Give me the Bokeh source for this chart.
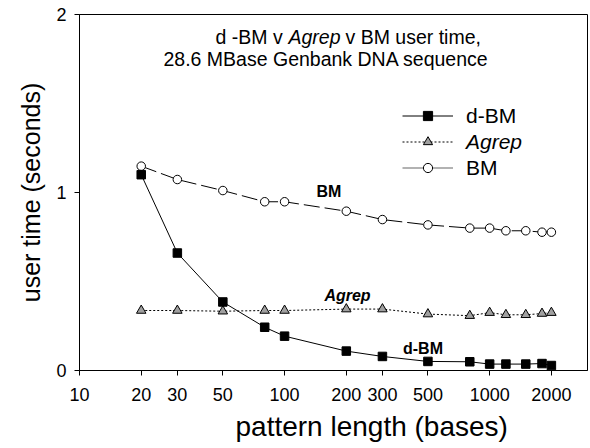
import math
from bokeh.plotting import figure
from bokeh.models import (Range1d, FixedTicker, PrintfTickFormatter, Label, Title,
                          Legend, LegendItem, ColumnDataSource)
from bokeh.embed import file_html
from bokeh.resources import INLINE

# ---------------- data ----------------
pattern_length = [20, 30, 50, 80, 100, 200, 300, 500, 800, 1000, 1200, 1500, 1800, 2000]
dbm_time = [1.10, 0.66, 0.385, 0.243, 0.193, 0.109, 0.079, 0.051, 0.049, 0.036, 0.036, 0.036, 0.039, 0.028]
agrep_time = [0.337, 0.337, 0.333, 0.337, 0.337, 0.345, 0.345, 0.317, 0.308, 0.325, 0.313, 0.313, 0.320, 0.325]
bm_time = [1.148, 1.073, 1.011, 0.948, 0.948, 0.895, 0.848, 0.818, 0.800, 0.800, 0.785, 0.785, 0.777, 0.777]
x_ticks = [10, 20, 30, 50, 100, 200, 300, 500, 1000, 2000]
y_ticks = [0, 1, 2]

FONT = "Liberation Sans"
X_START, X_END = 10, 3000
Y_START, Y_END = 0, 2

# frame geometry in canvas pixels (for placing texts)
FRAME_L, FRAME_T, FRAME_W, FRAME_H = 79, 14, 508, 356
W, H = 590, 448


def xd(px):
    lo, hi = math.log10(X_START), math.log10(X_END)
    return 10 ** (lo + (px - FRAME_L) / FRAME_W * (hi - lo))


def yd(py):
    return Y_END - (py - FRAME_T) / FRAME_H * (Y_END - Y_START)


p = figure(width=W, height=H, x_axis_type="log",
           x_range=Range1d(X_START, X_END), y_range=Range1d(Y_START, Y_END),
           output_backend="svg", toolbar_location=None,
           min_border_left=FRAME_L, min_border_right=W - FRAME_L - FRAME_W,
           min_border_top=FRAME_T, min_border_bottom=H - FRAME_T - FRAME_H)
p.xgrid.visible = False
p.ygrid.visible = False
p.outline_line_color = "black"
p.outline_line_width = 1
p.background_fill_color = "white"
p.border_fill_color = "white"

# axes
for ax in (p.xaxis[0], p.yaxis[0]):
    ax.axis_line_color = "black"
    ax.major_tick_line_color = "black"
    ax.major_tick_out = 5
    ax.major_tick_in = 0
    ax.minor_tick_out = 0
    ax.minor_tick_in = 0
    ax.major_label_text_font = FONT
    ax.major_label_text_font_size = "18px"
    ax.major_label_text_color = "black"

p.xaxis[0].ticker = FixedTicker(ticks=x_ticks, minor_ticks=[])
p.xaxis[0].formatter = PrintfTickFormatter(format="%d")
p.xaxis[0].major_label_standoff = 12
p.yaxis[0].ticker = FixedTicker(ticks=y_ticks, minor_ticks=[])
p.yaxis[0].formatter = PrintfTickFormatter(format="%d")
p.yaxis[0].major_label_standoff = 8
p.yaxis[0].axis_label = "user time (seconds)"
p.yaxis[0].axis_label_text_font = FONT
p.yaxis[0].axis_label_text_font_size = "25px"
p.yaxis[0].axis_label_text_font_style = "normal"
p.yaxis[0].axis_label_text_color = "black"
p.yaxis[0].axis_label_standoff = 8

# x axis title (placed below the axis, starting where the original's does)
p.add_layout(Title(text="pattern length (bases)", align="left", offset=156,
                   text_font=FONT, text_font_size="28px", text_font_style="normal",
                   text_color="black", standoff=11), "below")

# series
bm_line = p.line(pattern_length, bm_time, line_color="black", line_width=1, line_dash="16 5")
agrep_line = p.line(pattern_length, agrep_time, line_color="black", line_width=1, line_dash="2 2")
dbm_line = p.line(pattern_length, dbm_time, line_color="black", line_width=1)

bm_pts = p.scatter(pattern_length, bm_time, marker="circle", size=8.5,
                   fill_color="white", line_color="black", line_width=1)
agrep_pts = p.scatter(pattern_length, agrep_time, marker="triangle", size=9.5,
                      fill_color="#a0a0a0", line_color="black", line_width=1)
dbm_pts = p.scatter(pattern_length, dbm_time, marker="square", size=8.5,
                    fill_color="black", line_color="black", line_width=1)

# legend-only sample line for BM (solid in the legend; one point draws nothing in the plot)
bm_leg_src = ColumnDataSource(dict(x=pattern_length[:1], y=bm_time[:1]))
bm_leg_line = p.line("x", "y", source=bm_leg_src, line_color="#666666", line_width=1.2)

legend_rows = [
    ("d-BM", [dbm_line, dbm_pts], "normal", 242.5),
    ("Agrep", [agrep_line, agrep_pts], "italic", 216.5),
    ("BM", [bm_leg_line, bm_pts], "normal", 190.5),
]
for label, rends, style, vy in legend_rows:
    lg = Legend(items=[LegendItem(label=label, renderers=rends)],
                location=(323, vy), glyph_width=51, glyph_height=23, label_height=23,
                label_standoff=13, padding=10, spacing=0, margin=0,
                border_line_color=None, background_fill_alpha=0,
                label_text_font=FONT, label_text_font_size="21px",
                label_text_font_style=style, label_text_color="black")
    p.add_layout(lg)

# title texts
title_parts = [
    ("d -BM v", "normal", 215, 36),
    ("Agrep", "italic", 288, 36),
    ("v BM user time,", "normal", 345, 36),
    ("28.6 MBase Genbank DNA sequence", "normal", 163, 58),
]
for txt, style, px, py in title_parts:
    p.add_layout(Label(x=xd(px), y=yd(py), text=txt, text_font=FONT,
                       text_font_size="19.5px", text_font_style=style,
                       text_align="left", text_baseline="middle", text_color="black"))

# series annotations
annots = [
    ("BM", "bold", 328.5, 191),
    ("Agrep", "bold italic", 347, 295),
    ("d-BM", "bold", 422.5, 347.5),
]
for txt, style, px, py in annots:
    p.add_layout(Label(x=xd(px), y=yd(py), text=txt, text_font=FONT,
                       text_font_size="16px", text_font_style=style,
                       text_align="center", text_baseline="middle", text_color="black"))

open("out.html", "w").write(file_html(p, INLINE))
